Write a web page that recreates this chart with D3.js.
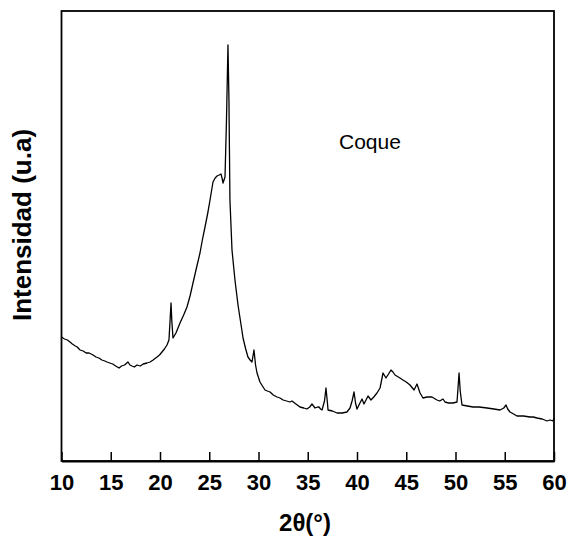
<!DOCTYPE html>
<html>
<head>
<meta charset="utf-8">
<script src="https://cdn.jsdelivr.net/npm/d3@7"></script>
<style>
  html, body { margin: 0; padding: 0; background: #fff; }
  svg { display: block; }
</style>
</head>
<body>
<svg id="chart" width="568" height="540"></svg>
<script>
// X-ray diffraction pattern of coke (coque): 2θ in degrees vs. intensity (a.u.)
const twoTheta = [
  10.0, 10.3, 10.6, 10.86, 11.1, 11.4, 11.6, 11.88, 12.2, 12.5, 12.8, 13.2, 13.5, 13.8,
  14.1, 14.4, 14.62, 14.9, 15.2, 15.5, 15.84, 16.1, 16.4, 16.75, 16.95, 17.16, 17.4, 17.66,
  18.0, 18.3, 18.68, 19.0, 19.3, 19.7, 19.95, 20.2, 20.45, 20.71, 20.91, 21.02, 21.12, 21.2,
  21.32, 21.62, 22.03, 22.4, 22.74, 23.05, 23.35, 23.7, 24.06, 24.3, 24.57, 24.85, 25.08,
  25.38, 25.6, 25.79, 26.0, 26.19, 26.3, 26.4, 26.6, 26.75, 26.9, 27.0, 27.05, 27.1, 27.31,
  27.61, 27.92, 28.2, 28.43, 28.7, 28.93, 29.15, 29.34, 29.54, 29.7, 29.85, 30.15, 30.4,
  30.66, 30.9, 31.17, 31.5, 31.88, 32.18, 32.5, 32.85, 33.2, 33.4, 33.8, 34.21, 34.6, 34.92,
  35.2, 35.43, 35.74, 36.0, 36.14, 36.3, 36.45, 36.7, 36.85, 37.0, 37.06, 37.5, 37.97, 38.5,
  38.98, 39.29, 39.5, 39.7, 39.85, 40.0, 40.3, 40.51, 40.71, 41.12, 41.42, 41.7, 42.03,
  42.34, 42.64, 42.94, 43.2, 43.45, 43.65, 43.86, 44.2, 44.67, 45.0, 45.38, 45.79, 46.09,
  46.4, 46.7, 47.1, 47.61, 48.12, 48.4, 48.73, 48.93, 49.3, 49.75, 50.15, 50.25, 50.36, 50.48,
  50.66, 51.2, 51.78, 52.4, 53.2, 53.9, 54.52, 54.9, 55.13, 55.3, 55.53, 55.9, 56.24, 56.9,
  57.56, 57.9, 58.27, 58.8, 59.29, 59.6, 59.9, 60.0
];
const intensity = [
  124, 122, 121, 119, 117, 115, 114, 111, 110, 108, 108, 106, 104, 103,
  101, 100, 99, 98, 97, 95, 93, 95, 96, 99, 96, 95, 94, 96,
  95, 97, 98, 99, 101, 104, 106, 109, 112, 116, 121, 140, 158, 140,
  123, 128, 138, 146, 154, 165, 178, 193, 208, 221, 234, 248, 261,
  279, 283, 285, 286, 287, 283, 278, 284, 341, 416, 361, 311, 261, 211,
  181, 156, 138, 123, 112, 104, 101, 99, 111, 96, 88, 79, 75,
  71, 70, 69, 66, 64, 63, 61, 60, 59, 60, 57, 54, 53, 52,
  54, 57, 53, 54, 54, 52, 51, 60, 73, 58, 51, 50, 48, 48,
  49, 53, 60, 69, 58, 52, 58, 62, 57, 65, 61, 64, 68,
  73, 88, 83, 87, 91, 89, 86, 84, 81, 79, 76, 71, 77,
  68, 63, 64, 64, 61, 60, 62, 59, 58, 58, 59, 72, 88, 70,
  56, 55, 54, 54, 53, 52, 51, 53, 56, 52, 49, 47, 45, 45,
  44, 44, 43, 42, 40, 41, 40, 43
];
const xTicks = [10, 15, 20, 25, 30, 35, 40, 45, 50, 55, 60];
const xLabel = "2θ(°)";
const yLabel = "Intensidad (u.a)";
const sampleName = "Coque";

const margin = { left: 61.5, right: 14, top: 11, bottom: 79 };
const W = 568, H = 540;
const svg = d3.select("#chart");

const x = d3.scaleLinear().domain([10, 60]).range([margin.left, W - margin.right]);
const y = d3.scaleLinear().domain([0, 450]).range([H - margin.bottom, margin.top]);

const data = twoTheta.map((t, i) => ({ t, v: intensity[i] }));

// diffraction trace
svg.append("path")
  .datum(data)
  .attr("fill", "none")
  .attr("stroke", "#000")
  .attr("stroke-width", 1.3)
  .attr("stroke-linejoin", "round")
  .attr("d", d3.line().x(d => x(d.t)).y(d => y(d.v)));

// frame
svg.append("rect")
  .attr("x", margin.left).attr("y", margin.top)
  .attr("width", W - margin.right - margin.left)
  .attr("height", H - margin.bottom - margin.top)
  .attr("fill", "none").attr("stroke", "#000").attr("stroke-width", 1.8);

// x axis with inward ticks
const xAxis = svg.append("g")
  .attr("transform", `translate(0,${H - margin.bottom})`)
  .call(d3.axisBottom(x).tickValues(xTicks).tickSizeInner(-9).tickSizeOuter(0).tickPadding(13));
xAxis.select(".domain").attr("stroke-width", 1.8);
xAxis.selectAll(".tick line").attr("stroke-width", 1.5);
xAxis.selectAll(".tick text")
  .attr("font-family", "'Liberation Sans', Arial, sans-serif")
  .attr("font-weight", "bold")
  .attr("font-size", 22)
  .attr("fill", "#000");

// axis titles
svg.append("text")
  .attr("x", 305)
  .attr("y", 531)
  .attr("text-anchor", "middle")
  .attr("font-family", "'Liberation Sans', Arial, sans-serif")
  .attr("font-weight", "bold")
  .attr("font-size", 24)
  .text(xLabel);

svg.append("text")
  .attr("transform", `translate(31,${(y.range()[0] + y.range()[1]) / 2 - 11}) rotate(-90)`)
  .attr("text-anchor", "middle")
  .attr("font-family", "'Liberation Sans', Arial, sans-serif")
  .attr("font-weight", "bold")
  .attr("font-size", 26)
  .text(yLabel);

// sample annotation
svg.append("text")
  .attr("x", 339).attr("y", 149)
  .attr("font-family", "'Liberation Sans', Arial, sans-serif")
  .attr("font-size", 21)
  .text(sampleName);
</script>
</body>
</html>
